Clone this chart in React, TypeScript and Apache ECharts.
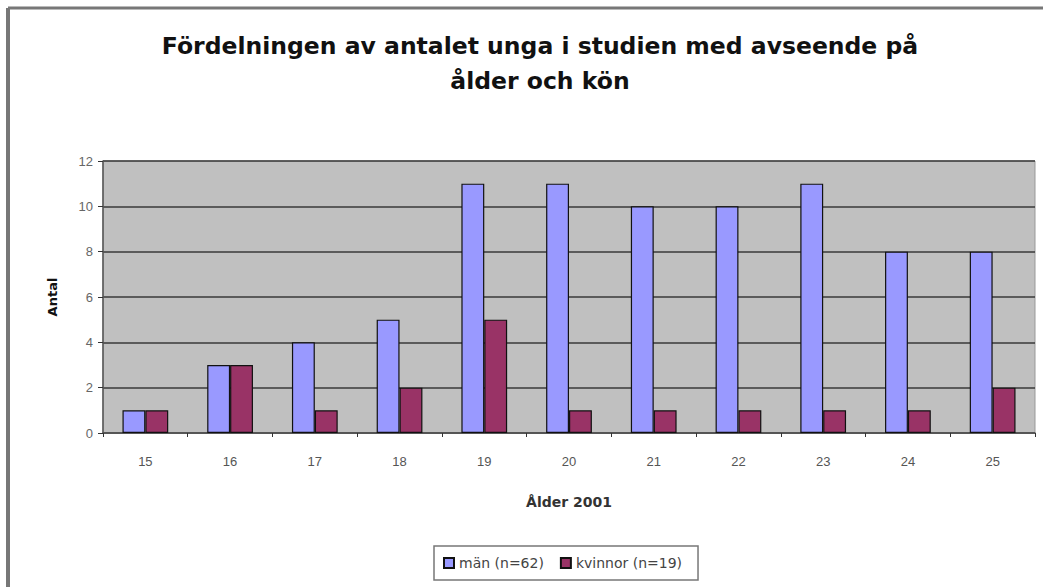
import React, { useEffect, useRef } from "react";
import * as echarts from "echarts";

const categories = ["15", "16", "17", "18", "19", "20", "21", "22", "23", "24", "25"];
const men = [1, 3, 4, 5, 11, 11, 10, 10, 11, 8, 8];
const women = [1, 3, 1, 2, 5, 1, 1, 1, 1, 1, 2];
const seriesNames = ["män (n=62)", "kvinnor (n=19)"];
const titleText = "Fördelningen av antalet unga i studien med avseende på\nålder och kön";
const xName = "Ålder 2001";
const yName = "Antal";

export default function App() {
  const ref = useRef<HTMLDivElement>(null);
  useEffect(() => {
    if (!ref.current) return;
    const chart = echarts.init(ref.current, null, { renderer: "svg" });
    const font = "'Liberation Sans', Arial, sans-serif";
    const wide = "'DejaVu Sans', sans-serif";
    chart.setOption({
      animation: false,
      backgroundColor: "#ffffff",
      textStyle: { fontFamily: font },
      title: {
        text: titleText,
        left: 535,
        textAlign: "center",
        top: 23,
        textStyle: { fontSize: 23.5, fontWeight: "bold", color: "#111", lineHeight: 35, fontFamily: wide },
      },
      legend: {
        data: seriesNames,
        left: 434,
        top: 546,
        height: 34,
        padding: [10, 16, 10, 9],
        itemWidth: 10,
        itemHeight: 10,
        itemGap: 16,
        borderColor: "#777",
        borderWidth: 1.5,
        textStyle: { fontSize: 14, color: "#444", fontFamily: wide },
        icon: "rect",
      },
      grid: {
        left: 103,
        right: 8,
        top: 161,
        bottom: 154,
        show: true,
        backgroundColor: "#c0c0c0",
        borderColor: "#999",
        borderWidth: 1,
      },
      xAxis: {
        type: "category",
        data: categories,
        name: xName,
        nameLocation: "middle",
        nameGap: 62,
        nameTextStyle: { fontSize: 14, fontWeight: "bold", color: "#333", fontFamily: wide },
        axisLine: { lineStyle: { color: "#555", width: 1.5 } },
        axisTick: { show: true, length: 4, lineStyle: { color: "#333" } },
        axisLabel: { fontSize: 13, color: "#555", margin: 22 },
      },
      yAxis: {
        type: "value",
        min: 0,
        max: 12,
        interval: 2,
        name: yName,
        nameLocation: "middle",
        nameGap: 44,
        nameTextStyle: { fontSize: 13, fontWeight: "bold", color: "#111", fontFamily: wide },
        axisLine: { show: true, lineStyle: { color: "#555", width: 1.5 } },
        axisTick: { show: true, length: 5, lineStyle: { color: "#333" } },
        axisLabel: { fontSize: 13, color: "#666", margin: 10 },
        splitLine: { lineStyle: { color: "#3a3a3a", width: 1.5 } },
      },
      series: [
        {
          name: seriesNames[0],
          type: "bar",
          data: men,
          barGap: "0%",
          barCategoryGap: "46%",
          itemStyle: { color: "#9999ff", borderColor: "#111", borderWidth: 1.2 },
        },
        {
          name: seriesNames[1],
          type: "bar",
          data: women,
          barGap: "0%",
          barCategoryGap: "46%",
          itemStyle: { color: "#993366", borderColor: "#111", borderWidth: 1.2 },
        },
      ],
      graphic: [
        { type: "line", shape: { x1: 8, y1: 8, x2: 1043, y2: 8 }, style: { stroke: "#777", lineWidth: 3 } },
        { type: "line", shape: { x1: 8, y1: 8, x2: 8, y2: 587 }, style: { stroke: "#777", lineWidth: 4 } },
      ],
    });
    return () => chart.dispose();
  }, []);
  return <div ref={ref} style={{ width: 1043, height: 587, position: "fixed", left: 0, top: 0 }} />;
}
